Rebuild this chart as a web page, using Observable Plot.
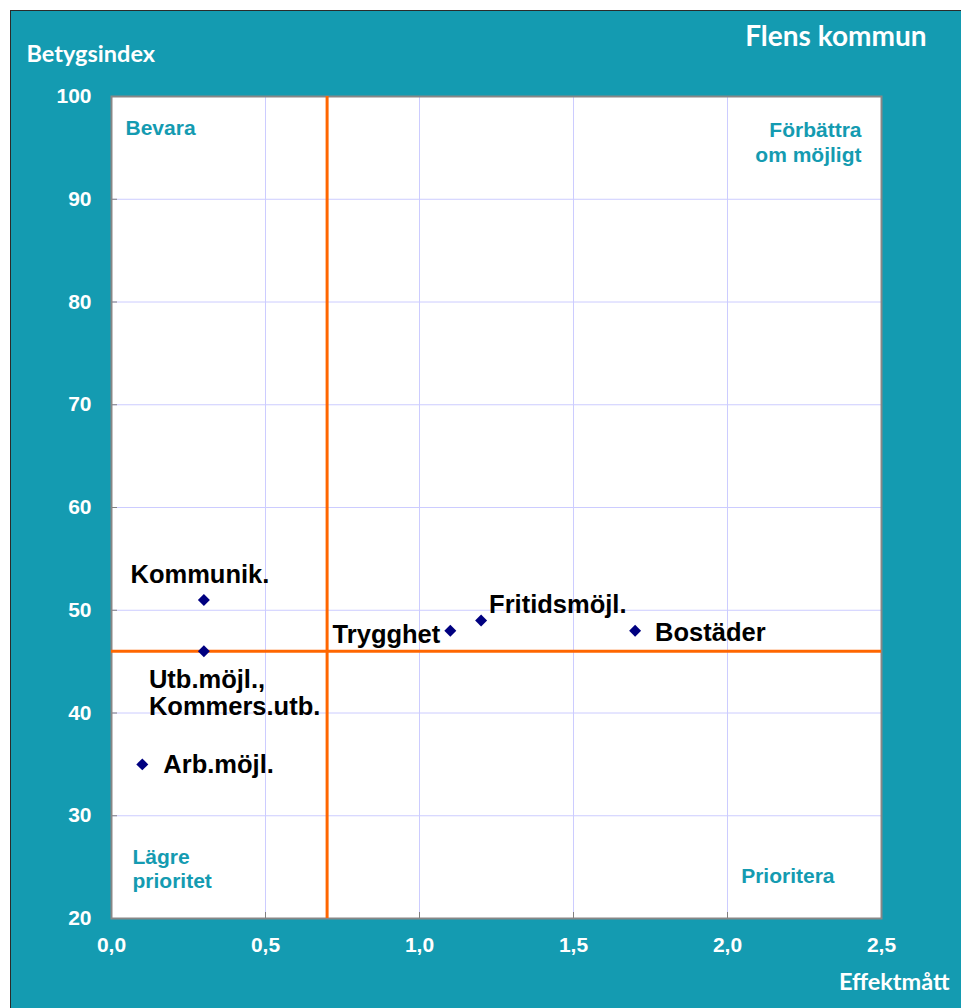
<!DOCTYPE html>
<html><head><meta charset="utf-8">
<script src="https://cdn.jsdelivr.net/npm/d3@7"></script>
<script src="https://cdn.jsdelivr.net/npm/@observablehq/plot@0.6"></script>
<style>
html,body{margin:0;padding:0;background:#fff;}
#box{position:absolute;left:10px;top:10px;width:950px;height:997px;border-top:1px solid #2b2b2b;border-left:1px solid #2b2b2b;background:#149bb1;overflow:hidden;}
</style></head><body><div id="box"></div>
<script>
// ---- data ----
const categories = ["Kommunik.", "Utb.möjl.,\nKommers.utb.", "Arb.möjl.", "Trygghet", "Fritidsmöjl.", "Bostäder"];
const effekt = [0.3, 0.3, 0.1, 1.1, 1.2, 1.7];
const betyg = [51, 46, 35, 48, 49, 48];
const xTicks = [0, 0.5, 1, 1.5, 2, 2.5];
const xTickLabels = ["0,0", "0,5", "1,0", "1,5", "2,0", "2,5"];
const yTicks = [20, 30, 40, 50, 60, 70, 80, 90, 100];
const thresholdX = [0.7];
const thresholdY = [46];
const title = "Flens kommun";
const yLabel = "Betygsindex";
const xLabel = "Effektmått";

// ---- styling ----
const TEAL = "#149bb1";
const ARIAL = "'Liberation Sans', Arial, sans-serif";
const CAL = "Lato, 'Open Sans', sans-serif";

const points = categories.map((name, i) => ({name, x: effekt[i], y: betyg[i]}));

const labelStyle = {
  "Kommunik.": {textAnchor: "middle", lineAnchor: "bottom", dx: -4, dy: -17},
  "Utb.möjl.,\nKommers.utb.": {textAnchor: "start", lineAnchor: "top", dx: -55, dy: 17, lineHeight: 1.08},
  "Arb.möjl.": {textAnchor: "start", lineAnchor: "middle", dx: 21, dy: 0},
  "Trygghet": {textAnchor: "end", lineAnchor: "middle", dx: -10, dy: 4},
  "Fritidsmöjl.": {textAnchor: "start", lineAnchor: "middle", dx: 8, dy: -16},
  "Bostäder": {textAnchor: "start", lineAnchor: "middle", dx: 20, dy: 2}
};

const quadStyle = {fill: TEAL, fontSize: 21, fontWeight: "bold", fontFamily: ARIAL};
const titleStyle = {fill: "white", fontWeight: "bold", fontFamily: CAL};

const chart = Plot.plot({
  width: 950,
  height: 997,
  marginLeft: 100,
  marginRight: 80,
  marginTop: 85,
  marginBottom: 90,
  style: {background: "transparent", overflow: "visible", fontFamily: ARIAL},
  x: {domain: [0, 2.5]},
  y: {domain: [20, 100]},
  marks: [
    Plot.frame({fill: "white"}),
    Plot.gridX(xTicks, {stroke: "#ccccff", strokeOpacity: 1, strokeWidth: 1}),
    Plot.gridY(yTicks, {stroke: "#ccccff", strokeOpacity: 1, strokeWidth: 1}),
    Plot.ruleY(yTicks, {x1: 0, x2: 0, insetRight: -6, stroke: "#808080"}),
    Plot.ruleX(xTicks, {y1: 20, y2: 20, insetBottom: 6, stroke: "#808080"}),
    Plot.frame({stroke: "#878787", strokeWidth: 2}),
    Plot.ruleX(thresholdX, {stroke: "#ff6600", strokeWidth: 3}),
    Plot.ruleY(thresholdY, {stroke: "#ff6600", strokeWidth: 3}),
    Plot.axisX(xTicks, {anchor: "bottom", tickSize: 0, tickPadding: 19, label: null,
      tickFormat: d => xTickLabels[xTicks.indexOf(d)], color: "white", fontSize: 21, fontWeight: "bold", fontFamily: ARIAL}),
    Plot.axisY(yTicks, {anchor: "left", tickSize: 0, tickPadding: 20, label: null,
      tickFormat: d => String(d), color: "white", fontSize: 21, fontWeight: "bold", fontFamily: ARIAL}),
    Plot.dot(points, {x: "x", y: "y", symbol: "diamond2", r: 5.4, fill: "#000080", stroke: null}),
    ...categories.map(name => Plot.text(points.filter(d => d.name === name), {
      x: "x", y: "y", text: "name", fontSize: 25.5, fontWeight: "bold", fill: "black", fontFamily: ARIAL,
      ...labelStyle[name]
    })),
    Plot.text(["Bevara"], {frameAnchor: "top-left", textAnchor: "start", lineAnchor: "top", dx: 14, dy: 24, ...quadStyle}),
    Plot.text(["Förbättra\nom möjligt"], {frameAnchor: "top-right", textAnchor: "end", lineAnchor: "top", lineHeight: 1.19, dx: -20, dy: 23, ...quadStyle}),
    Plot.text(["Lägre\nprioritet"], {frameAnchor: "bottom-left", textAnchor: "start", lineAnchor: "bottom", lineHeight: 1.1, dx: 21, dy: -31, ...quadStyle}),
    Plot.text(["Prioritera"], {frameAnchor: "bottom-right", textAnchor: "end", lineAnchor: "bottom", dx: -47, dy: -36, ...quadStyle}),
    Plot.text([yLabel], {frameAnchor: "top-left", textAnchor: "start", lineAnchor: "bottom", dx: -85, dy: -35, fontSize: 23.5, ...titleStyle}),
    Plot.text([title], {frameAnchor: "top-right", textAnchor: "end", lineAnchor: "bottom", dx: 45, dy: -51, fontSize: 28, ...titleStyle}),
    Plot.text([xLabel], {frameAnchor: "bottom-right", textAnchor: "end", lineAnchor: "bottom", dx: 68, dy: 71, fontSize: 23.5, ...titleStyle})
  ]
});
document.getElementById("box").appendChild(chart);
</script></body></html>
